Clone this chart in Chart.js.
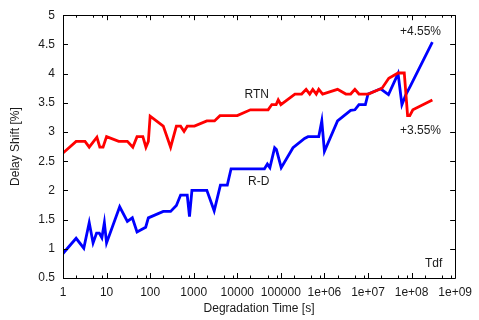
<!DOCTYPE html>
<html lang="en">
<head>
<meta charset="UTF-8">
<title>Delay Shift vs Degradation Time</title>
<script src="https://cdn.jsdelivr.net/npm/chart.js"></script>
<style>
    html, body { margin: 0; padding: 0; background: #fff; }
    #wrap { width: 479px; height: 320px; }
</style>
</head>
<body>
<div id="wrap"><canvas id="chart" width="479" height="320"></canvas></div>
<script>
    // RTN curve (red)
    const rtnTime = [1, 2, 3.2, 4, 6, 7, 8.3, 10, 19, 30, 40, 50, 68, 80, 91, 100, 200, 295, 400, 500, 600, 710, 1040,
        2000, 3000, 4000, 10000, 2e4, 5.1e4, 6.2e4, 7.8e4, 8.7e4, 1e5, 2.1e5, 3e5, 3.8e5, 4.6e5, 5.4e5, 6.5e5, 7.4e5,
        9.1e5, 2e6, 3.1e6, 4e6, 5e6, 6.2e6, 1.02e7, 2.1e7, 3e7, 4.9e7, 6.8e7, 8.1e7, 9.1e7, 1.07e8, 3e8];
    const rtnShift = [2.64, 2.84, 2.84, 2.74, 2.91, 2.74, 2.74, 2.92, 2.84, 2.84, 2.74, 2.92, 2.92, 2.74, 2.84, 3.27, 3.10, 2.74, 3.10, 3.10, 3.01, 3.10, 3.10,
        3.19, 3.19, 3.28, 3.28, 3.38, 3.38, 3.47, 3.47, 3.55, 3.47, 3.65, 3.65, 3.73, 3.65, 3.73, 3.65, 3.73,
        3.65, 3.73, 3.65, 3.65, 3.73, 3.65, 3.65, 3.75, 3.92, 4.01, 4.01, 3.28, 3.28, 3.38, 3.55];

    // R-D curve (blue)
    const rdTime = [1, 2, 3, 4, 4.9, 5.9, 6.8, 7.8, 8.9, 10, 20, 30, 39, 50, 79, 91, 200, 295, 400, 500, 710, 800, 910,
        2000, 2950, 4100, 5900, 7200, 4.2e4, 4.9e4, 5.6e4, 7.2e4, 7.9e4, 1.02e5, 1.9e5, 3.5e5, 4.2e5, 7.4e5, 8.7e5, 1e6,
        2e6, 4e6, 5e6, 6.2e6, 8.7e6, 1e7, 1.95e7, 2.95e7, 4.9e7, 6e7, 7.4e7, 9.3e7, 3e8];
    const rdShift = [0.92, 1.18, 1.01, 1.45, 1.10, 1.27, 1.27, 1.19, 1.45, 1.10, 1.72, 1.47, 1.53, 1.29, 1.37, 1.53, 1.64, 1.64, 1.74, 1.92, 1.92, 1.55, 2.00,
        2.00, 1.65, 2.09, 2.09, 2.37, 2.37, 2.45, 2.39, 2.73, 2.70, 2.39, 2.73, 2.89, 2.92, 2.92, 3.19, 2.67,
        3.19, 3.37, 3.38, 3.47, 3.47, 3.65, 3.74, 3.64, 4.00, 3.47, 3.64, 3.78, 4.54];

    const xTicks = [1, 10, 100, 1000, 1e4, 1e5, 1e6, 1e7, 1e8, 1e9];
    const yTicks = [0.5, 1, 1.5, 2, 2.5, 3, 3.5, 4, 4.5, 5];

    // text labels inside the plot, placed in data coordinates
    const noteText = ['RTN', 'R-D', '+4.55%', '+3.55%', 'Tdf'];
    const noteTime = [2.8e4, 3.1e4, 1.6e8, 1.6e8, 3.2e8];
    const noteShift = [3.64, 2.15, 4.72, 3.02, 0.75];

    const FONT = '"Liberation Sans", Arial, Helvetica, sans-serif';
    const INK = '#1a1a1a';

    function toPoints(xs, ys) {
        return xs.map((x, i) => ({ x: x, y: ys[i] }));
    }

    function tickLabel(v) {
        const e = Math.round(Math.log10(v));
        return e <= 5 ? String(Math.pow(10, e)) : '1e+0' + e;
    }

    // gnuplot style frame with inward, mirrored ticks plus the notes
    const framePlugin = {
        id: 'frame',
        afterDatasetsDraw(chart) {
            const { ctx, chartArea: a, scales } = chart;
            ctx.save();
            ctx.strokeStyle = '#000';
            ctx.lineWidth = 1;
            ctx.beginPath();
            ctx.rect(Math.round(a.left) + 0.5, Math.round(a.top) + 0.5,
                Math.round(a.right - a.left), Math.round(a.bottom - a.top));
            ctx.stroke();

            ctx.beginPath();
            xTicks.forEach((t, i) => {
                const px = Math.round(scales.x.getPixelForValue(t)) + 0.5;
                ctx.moveTo(px, a.bottom); ctx.lineTo(px, a.bottom - 5);
                ctx.moveTo(px, a.top); ctx.lineTo(px, a.top + 5);
                if (i < xTicks.length - 1) {
                    [2, 5, 8].forEach(m => {
                        const mx = Math.round(scales.x.getPixelForValue(t * m)) + 0.5;
                        ctx.moveTo(mx, a.bottom); ctx.lineTo(mx, a.bottom - 2.5);
                        ctx.moveTo(mx, a.top); ctx.lineTo(mx, a.top + 2.5);
                    });
                }
            });
            yTicks.forEach(v => {
                const py = Math.round(scales.y.getPixelForValue(v)) + 0.5;
                ctx.moveTo(a.left, py); ctx.lineTo(a.left + 5, py);
                ctx.moveTo(a.right, py); ctx.lineTo(a.right - 5, py);
            });
            ctx.stroke();

            ctx.fillStyle = INK;
            ctx.font = '12px ' + FONT;
            ctx.textAlign = 'center';
            ctx.textBaseline = 'middle';
            noteText.forEach((txt, i) => {
                ctx.fillText(txt, scales.x.getPixelForValue(noteTime[i]), scales.y.getPixelForValue(noteShift[i]));
            });
            ctx.restore();
        }
    };

    new Chart(document.getElementById('chart'), {
        type: 'line',
        data: {
            datasets: [
                {
                    label: 'RTN',
                    data: toPoints(rtnTime, rtnShift),
                    borderColor: '#ff0000',
                    borderWidth: 2.8,
                    pointRadius: 0,
                    tension: 0,
                    fill: false
                },
                {
                    label: 'R-D',
                    data: toPoints(rdTime, rdShift),
                    borderColor: '#0000ff',
                    borderWidth: 2.8,
                    pointRadius: 0,
                    tension: 0,
                    fill: false
                }
            ]
        },
        options: {
            responsive: false,
            animation: false,
            devicePixelRatio: 1,
            layout: { padding: { top: 9, right: 18, left: 0, bottom: 0 } },
            plugins: {
                legend: { display: false },
                tooltip: { enabled: false }
            },
            scales: {
                x: {
                    type: 'logarithmic',
                    min: 1,
                    max: 1e9,
                    afterBuildTicks: s => { s.ticks = xTicks.map(v => ({ value: v })); },
                    afterFit: s => { s.height = 42; },
                    grid: { display: false, drawTicks: false },
                    border: { display: false },
                    ticks: {
                        autoSkip: false,
                        maxRotation: 0,
                        padding: 7,
                        color: INK,
                        font: { family: FONT, size: 12 },
                        callback: v => tickLabel(v)
                    },
                    title: {
                        display: true,
                        text: 'Degradation Time [s]',
                        color: INK,
                        font: { family: FONT, size: 12 },
                        padding: { top: 4, bottom: 4 }
                    }
                },
                y: {
                    min: 0.5,
                    max: 5,
                    afterBuildTicks: s => { s.ticks = yTicks.map(v => ({ value: v })); },
                    afterFit: s => { s.width = 63; },
                    grid: { display: false, drawTicks: false },
                    border: { display: false },
                    ticks: {
                        padding: 8,
                        color: INK,
                        font: { family: FONT, size: 12 },
                        callback: v => String(v)
                    },
                    title: {
                        display: true,
                        text: 'Delay Shift [%]',
                        color: INK,
                        font: { family: FONT, size: 12 },
                        padding: { top: 8, bottom: 0 }
                    }
                }
            }
        },
        plugins: [framePlugin]
    });
</script>
</body>
</html>
